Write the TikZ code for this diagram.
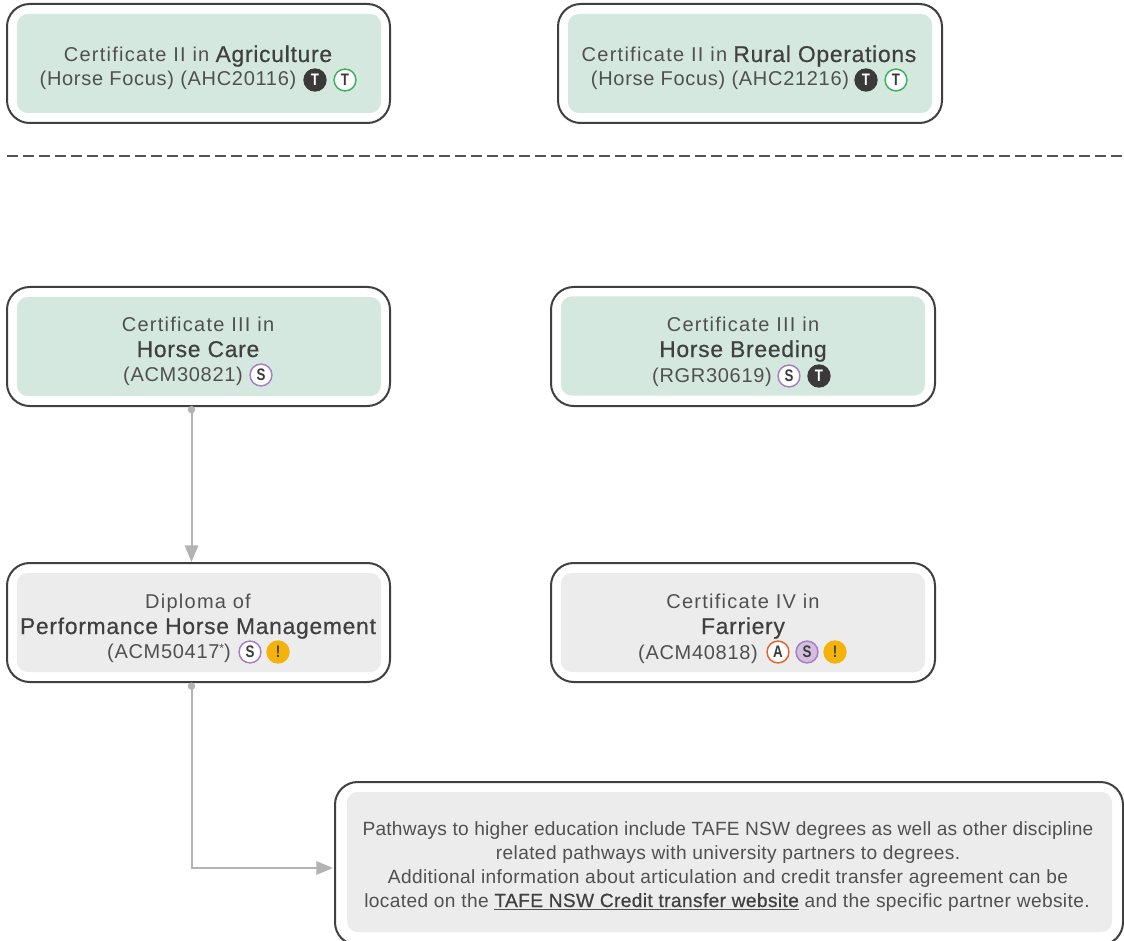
\documentclass[tikz,border=0pt]{standalone}
\usepackage{fontspec}
\usetikzlibrary{arrows.meta}
\setmainfont{Liberation Sans}[LetterSpace=3.5]
\newfontfamily\certfont{Liberation Sans}[LetterSpace=6.3]
\newfontfamily\medfont{Liberation Sans}[FakeBold=0.6,LetterSpace=3.3]
\newfontfamily\parafont{Liberation Sans}[LetterSpace=2]
\newfontfamily\paratight{Liberation Sans}[LetterSpace=1.1]
\newfontfamily\paramed{Liberation Sans}[FakeBold=0.6,LetterSpace=2]
\newfontfamily\badgefont{Liberation Sans}[BoldFeatures={FakeStretch=0.8}]
\newcommand{\hl}[1]{{\medfont\fontsize{17.1pt}{18pt}\selectfont\color{txtdark}#1}}
\newcommand{\hlp}[1]{{\paramed\color{txtdark}#1}}
\newcommand{\cert}[1]{{\certfont #1}}
\newcommand{\starmark}{\raisebox{0.55ex}{\fontsize{9pt}{9pt}\selectfont *}}
\definecolor{txt}{HTML}{505050}
\definecolor{txtdark}{HTML}{404040}
\definecolor{frame}{HTML}{404040}
\definecolor{greenbg}{HTML}{D4E8DF}
\definecolor{greybg}{HTML}{ECECEC}
\definecolor{conn}{HTML}{B3B3B3}
\definecolor{dashc}{HTML}{555555}
\definecolor{ringgreen}{HTML}{3DB05C}
\definecolor{ringpurple}{HTML}{A57FC0}
\definecolor{purplebg}{HTML}{D3BEDF}
\definecolor{ringorange}{HTML}{E8622C}
\definecolor{amber}{HTML}{F4B30A}
\definecolor{dark}{HTML}{3A3A3A}
\tikzset{
  x=0.75pt,y=-0.75pt,
  sz/.style 2 args={minimum width=#1*0.75pt,minimum height=#2*0.75pt},
  outerbox/.style={draw=frame,line width=1.5pt,fill=white,rounded corners=17pt,inner sep=0,outer sep=0},
  innerbox/.style={rounded corners=8pt,inner sep=0,outer sep=0},
  ibgreen/.style={innerbox,fill=greenbg},
  ibgrey/.style={innerbox,fill=greybg},
  line/.style={anchor=base,inner sep=0,outer sep=0,text=txt,font=\fontsize{15pt}{18pt}\selectfont},
  para/.style={line,font=\parafont\fontsize{14.35pt}{18pt}\selectfont},
  paralead/.style={line,font=\paratight\fontsize{14.35pt}{18pt}\selectfont},
  badge/.style={circle,inner sep=0,outer sep=0,minimum size=17.5pt,font=\badgefont\bfseries\fontsize{12.5pt}{12pt}\selectfont},
  bT/.style={badge,fill=dark,text=white},
  bring/.style={badge,line width=1.1pt,minimum size=16.4pt,text=dark},
  bTg/.style={bring,draw=ringgreen,fill=white},
  bS/.style={bring,draw=ringpurple,fill=white},
  bSf/.style={bring,draw=ringpurple,fill=purplebg},
  bA/.style={bring,draw=ringorange,fill=white},
  bW/.style={badge,fill=amber,text=dark},
  connector/.style={draw=conn,line width=1.5pt,{Circle[length=5.5pt,fill=conn]}-{Triangle[length=12.5pt,width=10pt,fill=conn]}},
}
\begin{document}
\begin{tikzpicture}
\useasboundingbox[fill=white] (0,0) rectangle (1124,941);
% dashed rule
\coordinate (dashl) at (7,156);
\coordinate (dashr) at (1124,156);
\draw[dashc,line width=1.5pt,dash pattern=on 8pt off 4pt] (dashl) -- (dashr);
% row 1
\node[outerbox,sz={383}{119}] (agriO) at (198.5,63.5) {};
\node[ibgreen,sz={364}{99}] (agriI) at (199,63.5) {};
\node[line] (agri1) at (198,62) {\cert{Certificate II in} \hl{Agriculture}};
\node[line] (agri2) at (168,86) {(Horse Focus) (AHC20116)};
\node[bT] (agriB1) at (315,80) {T};
\node[bTg] (agriB2) at (345,80) {T};
\node[outerbox,sz={384}{119}] (ruralO) at (750,63.5) {};
\node[ibgreen,sz={364}{99}] (ruralI) at (750,63.5) {};
\node[line] (rural1) at (749,62) {\cert{Certificate II in} \hl{Rural Operations}};
\node[line] (rural2) at (720,86) {(Horse Focus) (AHC21216)};
\node[bT] (ruralB1) at (866,80) {T};
\node[bTg] (ruralB2) at (896,80) {T};
% row 2
\node[outerbox,sz={383}{119}] (careO) at (198.5,346.5) {};
\node[ibgreen,sz={364}{99}] (careI) at (199,346.5) {};
\node[line] (care1) at (198,331) {\cert{Certificate III in}};
\node[line] (care2) at (198,357) {\hl{Horse Care}};
\node[line] (care3) at (183,381) {(ACM30821)};
\node[bS] (careB1) at (261,375) {S};
\node[outerbox,sz={384}{119}] (breedO) at (743,346.5) {};
\node[ibgreen,sz={364}{99}] (breedI) at (743,346) {};
\node[line] (breed1) at (743,331) {\cert{Certificate III in}};
\node[line] (breed2) at (743,357) {\hl{Horse Breeding}};
\node[line] (breed3) at (712,382) {(RGR30619)};
\node[bS] (breedB1) at (789,376) {S};
\node[bT] (breedB2) at (819,376) {T};
% row 3
\node[outerbox,sz={383}{119}] (dipO) at (198.5,622.5) {};
\node[ibgrey,sz={364}{99}] (dipI) at (199,622.5) {};
\node[line] (dip1) at (198,608) {\cert{Diploma of}};
\node[line] (dip2) at (198,634) {\hl{Performance Horse Management}};
\node[line] (dip3) at (169,658) {(ACM50417\starmark)};
\node[bS] (dipB1) at (250,652) {S};
\node[bW] (dipB2) at (278,652) {!};
\node[outerbox,sz={384}{119}] (farrO) at (743,622.5) {};
\node[ibgrey,sz={364}{99}] (farrI) at (743,622.5) {};
\node[line] (farr1) at (743,608) {\cert{Certificate IV in}};
\node[line] (farr2) at (743,634) {\hl{Farriery}};
\node[line] (farr3) at (698,659) {(ACM40818)};
\node[bA] (farrB1) at (778,652) {A};
\node[bSf] (farrB2) at (807,652) {S};
\node[bW] (farrB3) at (835,652) {!};
% pathways
\node[outerbox,sz={788}{163}] (pathO) at (729,863.5) {};
\node[ibgrey,sz={765}{140}] (pathI) at (729.5,862) {};
\node[paralead] (path1) at (728,835) {Pathways to higher education include TAFE NSW degrees as well as other discipline};
\node[para] (path2) at (728,859) {related pathways with university partners to degrees.};
\node[para] (path3) at (728,883) {Additional information about articulation and credit transfer agreement can be};
\node[para] (path4) at (727,907) {located on the \underline{\hlp{TAFE NSW Credit transfer website}} and the specific partner website.};
% connectors
\coordinate (careout) at (191.5,406);
\coordinate (dipin) at (191.5,562);
\coordinate (dipout) at (191.5,682.5);
\coordinate (pathin) at (333,868);
\draw[connector] (careout) -- (dipin);
\draw[connector] (dipout) |- (pathin);
\end{tikzpicture}
\end{document}
